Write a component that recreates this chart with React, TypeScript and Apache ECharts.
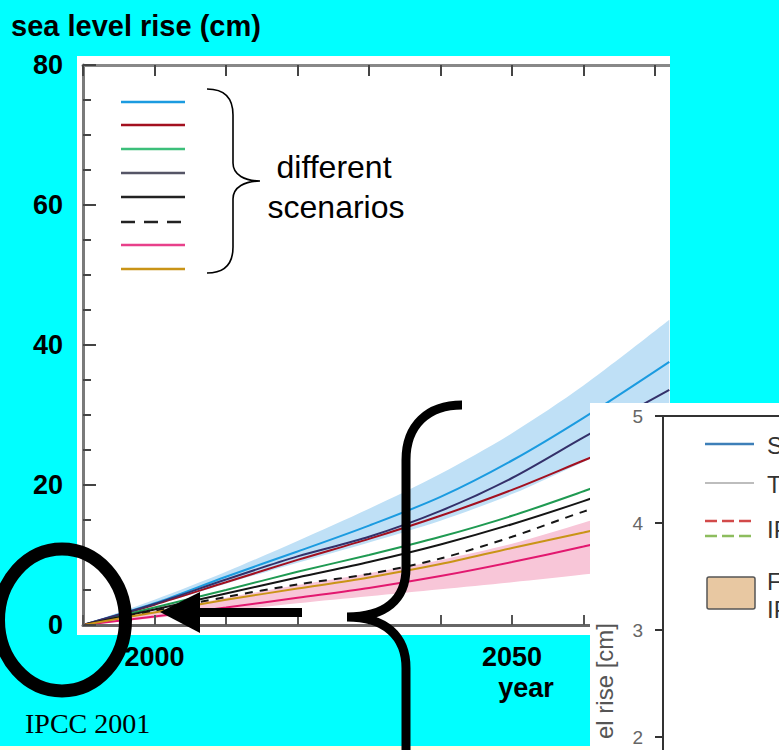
import React, { useEffect, useRef } from "react";
import * as echarts from "echarts";

// ---- data ----
const years = [1990, 2000, 2010, 2020, 2030, 2040, 2050, 2060, 2072];
const blueLine = [0, 3.1, 6.9, 10.5, 14.2, 18.3, 23.5, 29.6, 37.6];
const redLine = [0, 2.9, 6.1, 9.3, 12.3, 15.6, 19.3, 23.5, 28.5];
const greenLine = [0, 2.5, 5.0, 7.6, 10.0, 12.6, 15.6, 19.1, 23.5];
const navyLine = [0, 3.0, 6.5, 9.8, 12.6, 16.3, 21.0, 26.8, 33.6];
const blackLine = [0, 2.2, 4.5, 6.8, 9.0, 11.5, 14.4, 17.7, 22.0];
const dashedLine = [0, 2.0, 4.0, 5.8, 7.3, 9.5, 12.6, 16.2, 20.0];
const pinkLine = [0, 1.2, 2.5, 3.9, 5.3, 7.0, 9.0, 11.2, 14.0];
const goldLine = [0, 1.8, 3.6, 5.2, 6.8, 8.7, 11.0, 13.2, 16.0];
const blueBandLow = [0, 2.8, 5.9, 8.9, 11.8, 14.9, 18.7, 23.3, 28.8];
const blueBandHigh = [0, 3.6, 7.6, 12.0, 16.6, 21.6, 27.4, 34.2, 43.6];
const pinkBandLow = [0, 1.0, 2.0, 3.1, 4.1, 5.1, 6.1, 7.2, 8.6];
const pinkBandHigh = [0, 2.0, 3.9, 5.7, 7.4, 9.3, 11.6, 14.6, 18.4];
const yTicks = [0, 20, 40, 60, 80];
const xLabelYears = [2000, 2050];
const insetTicks = [2, 3, 4, 5];

const scenarioLines = [blueLine, redLine, greenLine, navyLine, blackLine, dashedLine, pinkLine, goldLine];
const scenarioColors = ["#1b9be0", "#a3101f", "#1f9a52", "#34306a", "#151515", "#151515", "#e2186f", "#c99417"];
const scenarioDashed = [false, false, false, false, false, true, false, false];
const legendColors = ["#1b9be0", "#a3101f", "#3cbf7a", "#555566", "#222222", "#222222", "#e8408a", "#c99417"];

const FONT = '"Liberation Sans", Arial, sans-serif';

function zip(vals: number[]) {
  return years.map((y, i) => [y, vals[i]]);
}

function areaSeries(vals: number[], color: string) {
  return {
    type: "line", data: zip(vals), symbol: "none", smooth: 0.3, z: 3, silent: true,
    lineStyle: { opacity: 0, width: 0 },
    areaStyle: { color, opacity: 1, origin: "start" },
  };
}

export default function App() {
  const ref = useRef<HTMLDivElement>(null);
  useEffect(() => {
    if (!ref.current) return;
    echarts.graphic.registerShape(
      "smallBrace",
      echarts.graphic.extendPath(
        "M207 89 C225 89 233 98 233 115 L233 163 C233 175 245 181 260 181 C245 181 233 187 233 199 L233 247 C233 264 225 273 207 273",
        {}
      )
    );
    echarts.graphic.registerShape(
      "bigBrace",
      echarts.graphic.extendPath(
        "M462 405 C428 405 406 425 406 460 L406 568 C406 600 385 617 347 617 C385 617 406 636 406 668 L406 760",
        {}
      )
    );
    const chart = echarts.init(ref.current, undefined, { renderer: "svg" });

    const series: any[] = [
      areaSeries(blueBandHigh, "#bfe0f6"),
      areaSeries(blueBandLow, "#ffffff"),
      areaSeries(pinkBandHigh, "#f8c6d8"),
      areaSeries(pinkBandLow, "#ffffff"),
    ];
    scenarioLines.forEach((arr, i) => {
      series.push({
        type: "line", data: zip(arr), symbol: "none", smooth: 0.3, z: 3,
        lineStyle: { color: scenarioColors[i], width: 2, type: scenarioDashed[i] ? [8, 7] : "solid" },
      });
    });

    const legendEls: any[] = [];
    const legendY = [102, 125, 149, 173, 197, 222, 245, 269];
    legendY.forEach((y, i) => {
      legendEls.push({
        type: "line", z: 10,
        shape: { x1: 121, y1: y, x2: 185, y2: y },
        style: { stroke: legendColors[i], lineWidth: 2.5, lineDash: scenarioDashed[i] ? [14, 9] : null },
      });
    });

    const option: any = {
      animation: false,
      backgroundColor: "#00ffff",
      grid: [
        { left: 83, top: 65, width: 643.5, height: 560 },
        { left: 663, top: 416, width: 116, height: 321 },
      ],
      xAxis: [
        {
          type: "value", gridIndex: 0, min: 1990, max: 2080, interval: 10, position: "bottom", z: 6,
          axisLine: { lineStyle: { color: "#666", width: 3 } },
          axisTick: { inside: true, length: 10, lineStyle: { color: "#555", width: 2 } },
          splitLine: { show: false },
          axisLabel: {
            margin: 18, color: "#000", fontSize: 27, fontWeight: "bold", fontFamily: FONT,
            formatter: (v: number) => (xLabelYears.includes(v) ? String(v) : ""),
          },
        },
        {
          type: "value", gridIndex: 0, min: 1990, max: 2080, interval: 10, position: "top", z: 6,
          axisLine: { lineStyle: { color: "#888", width: 3 } },
          axisTick: { inside: true, length: 11, lineStyle: { color: "#444", width: 2 } },
          splitLine: { show: false },
          axisLabel: { show: false },
        },
        {
          type: "value", gridIndex: 1, min: 0, max: 1, position: "top", z: 60,
          axisLine: { lineStyle: { color: "#333", width: 2 } },
          axisTick: { show: false }, splitLine: { show: false }, axisLabel: { show: false },
        },
      ],
      yAxis: [
        {
          type: "value", gridIndex: 0, min: 0, max: 80, interval: 20, z: 6,
          axisLine: { show: true, lineStyle: { color: "#7a7a7a", width: 3 } },
          axisTick: { show: true, inside: true, length: 13, lineStyle: { color: "#444", width: 2 } },
          minorTick: { show: true, splitNumber: 4, length: 8, lineStyle: { color: "#444", width: 2 } },
          splitLine: { show: false },
          axisLabel: {
            margin: 20, color: "#000", fontSize: 27, fontWeight: "bold", fontFamily: FONT,
            formatter: (v: number) => (yTicks.includes(v) ? String(v) : ""),
          },
        },
        {
          type: "value", gridIndex: 1, min: 2, max: 5, interval: 1, z: 60,
          axisLine: { show: true, lineStyle: { color: "#333", width: 2 } },
          axisTick: { show: true, length: 8, lineStyle: { color: "#333", width: 2 } },
          splitLine: { show: false },
          axisLabel: {
            margin: 20, color: "#666", fontSize: 19, fontFamily: FONT,
            formatter: (v: number) => (insetTicks.includes(v) ? String(v) : ""),
          },
        },
      ],
      series,
      graphic: {
        elements: [
          { type: "rect", z: -10, shape: { x: 77, y: 56, width: 593, height: 579 }, style: { fill: "#ffffff" } },
          ...legendEls,
          { type: "smallBrace", z: 10, x: 0, y: 0, style: { fill: "none", stroke: "#000", lineWidth: 1.6 } },
          {
            type: "text", z: 10, x: 334, y: 167,
            style: { text: "different", font: `32px ${FONT}`, fill: "#000", align: "center", verticalAlign: "middle" },
          },
          {
            type: "text", z: 10, x: 336, y: 207,
            style: { text: "scenarios", font: `32px ${FONT}`, fill: "#000", align: "center", verticalAlign: "middle" },
          },
          // covers
          { type: "rect", z: 50, shape: { x: 670, y: 0, width: 109, height: 403 }, style: { fill: "#00ffff" } },
          { type: "rect", z: 50, shape: { x: 0, y: 746, width: 590, height: 4 }, style: { fill: "#fdfde6" } },
          { type: "rect", z: 50, shape: { x: 590, y: 403, width: 189, height: 347 }, style: { fill: "#ffffff" } },
          // inset
          { type: "line", z: 61, shape: { x1: 663, y1: 736, x2: 663, y2: 750 }, style: { stroke: "#333", lineWidth: 2 } },
          { type: "line", z: 61, shape: { x1: 705, y1: 444, x2: 754, y2: 444 }, style: { stroke: "#3d7fb8", lineWidth: 2.5 } },
          { type: "line", z: 61, shape: { x1: 705, y1: 483, x2: 754, y2: 483 }, style: { stroke: "#bdbdbd", lineWidth: 2 } },
          { type: "line", z: 61, shape: { x1: 705, y1: 521, x2: 754, y2: 521 }, style: { stroke: "#d24a4a", lineWidth: 2.5, lineDash: [12, 5] } },
          { type: "line", z: 61, shape: { x1: 705, y1: 536, x2: 754, y2: 536 }, style: { stroke: "#8dbd5e", lineWidth: 2.5, lineDash: [12, 5] } },
          { type: "rect", z: 61, shape: { x: 707, y: 577, width: 48, height: 32, r: 2 }, style: { fill: "#e8c8a2", stroke: "#555", lineWidth: 1.5 } },
          { type: "text", z: 61, x: 767, y: 445, style: { text: "S", font: `24px ${FONT}`, fill: "#333", verticalAlign: "middle" } },
          { type: "text", z: 61, x: 767, y: 484, style: { text: "T", font: `24px ${FONT}`, fill: "#333", verticalAlign: "middle" } },
          { type: "text", z: 61, x: 767, y: 529, style: { text: "IP", font: `24px ${FONT}`, fill: "#333", verticalAlign: "middle" } },
          { type: "text", z: 61, x: 767, y: 581, style: { text: "F", font: `24px ${FONT}`, fill: "#333", verticalAlign: "middle" } },
          { type: "text", z: 61, x: 767, y: 609, style: { text: "IP", font: `24px ${FONT}`, fill: "#333", verticalAlign: "middle" } },
          {
            type: "text", z: 61, x: 604, y: 623, rotation: Math.PI / 2,
            style: { text: "el rise [cm]", font: `24px ${FONT}`, fill: "#555", align: "right", verticalAlign: "middle" },
          },
          // annotations
          { type: "bigBrace", z: 70, x: 0, y: 0, style: { fill: "none", stroke: "#000", lineWidth: 9 } },
          { type: "line", z: 70, shape: { x1: 196, y1: 612.5, x2: 302, y2: 612.5 }, style: { stroke: "#000", lineWidth: 9 } },
          { type: "polygon", z: 70, shape: { points: [[160, 612], [200, 592], [200, 633]] }, style: { fill: "#000" } },
          { type: "ellipse", z: 70, shape: { cx: 62, cy: 620, rx: 63.5, ry: 71 }, style: { fill: "none", stroke: "#000", lineWidth: 13 } },
          // texts
          {
            type: "text", z: 70, x: 11, y: 26,
            style: { text: "sea level rise (cm)", font: `bold 29px ${FONT}`, fill: "#000", verticalAlign: "middle" },
          },
          {
            type: "text", z: 70, x: 526, y: 688,
            style: { text: "year", font: `bold 27px ${FONT}`, fill: "#000", align: "center", verticalAlign: "middle" },
          },
          {
            type: "text", z: 70, x: 25, y: 723,
            style: { text: "IPCC 2001", font: `28px "Liberation Serif", "Times New Roman", serif`, fill: "#000", verticalAlign: "middle" },
          },
        ],
      },
    };
    chart.setOption(option);
    return () => chart.dispose();
  }, []);
  return <div ref={ref} style={{ width: 779, height: 750, position: "absolute", left: 0, top: 0 }} />;
}
